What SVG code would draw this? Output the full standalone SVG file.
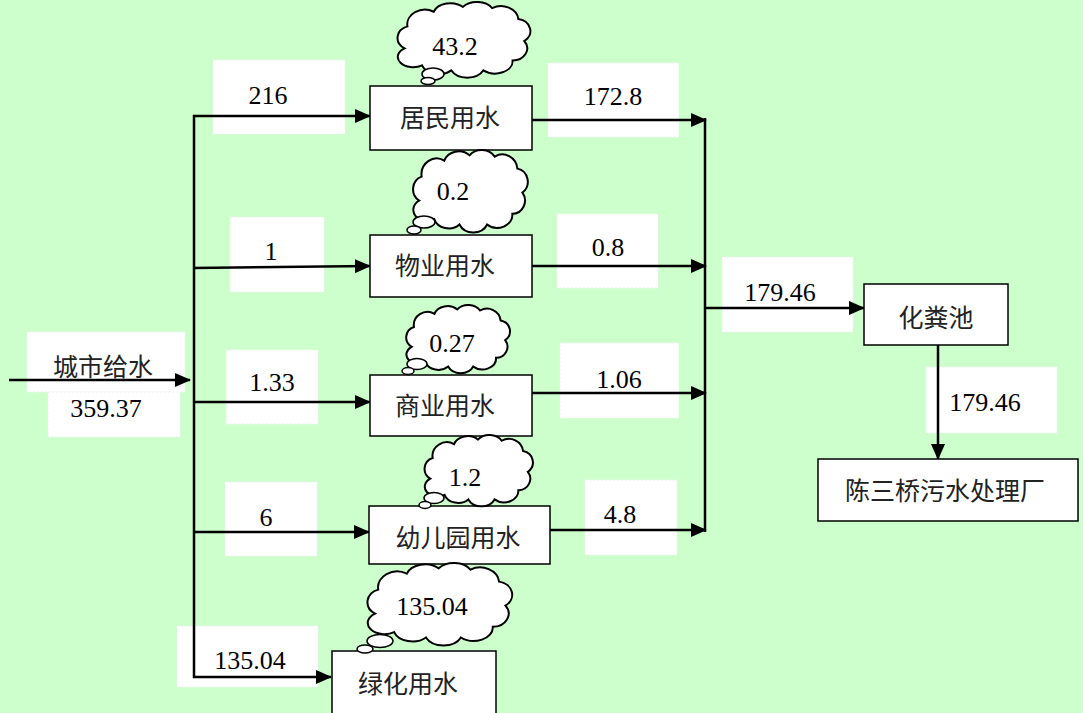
<svg xmlns="http://www.w3.org/2000/svg" width="1083" height="713" viewBox="0 0 1083 713">
<style>
.bg{fill:#CCFFCC}
.lbl{fill:#FFFFFF;stroke:#F0F0F0;stroke-width:1;stroke-dasharray:2 2}
.box{fill:#FFFFFF;stroke:#000;stroke-width:1.5}
.ln{fill:none;stroke:#000;stroke-width:2.5}
.ar{fill:none;stroke:#000;stroke-width:2.5;marker-end:url(#ah)}
.num{font-size:26px;fill:#000;text-anchor:middle}
.zh{font-size:25px;fill:#222;text-anchor:middle}
.cloud{fill:#FFFFFF;stroke:#000;stroke-width:2}
.bub{fill:#FFFFFF;stroke:#000;stroke-width:1.5}
</style>
<defs>
<marker id="ah" markerUnits="userSpaceOnUse" markerWidth="16" markerHeight="14" refX="15" refY="7" orient="auto">
<path d="M0,0 L16,7 L0,14 Z" fill="#000"/>
</marker>
<path id="cl" vector-effect="non-scaling-stroke" d="M12,38 A10,10 0 0 1 14,20 A12,12 0 0 1 32,8 A12,10 0 0 1 52,4 A12,10 0 0 1 72,5 A12,12 0 0 1 90,14 A10,10 0 0 1 94,32 A10,10 0 0 1 86,48 A12,10 0 0 1 66,56 A12,10 0 0 1 44,56 A12,10 0 0 1 24,52 A10,8 0 0 1 12,38 Z"/>
</defs>
<rect class="bg" x="0" y="0" width="1083" height="713"/>

<g id="labels">
<rect class="lbl" x="213" y="60" width="132" height="74"/>
<rect class="lbl" x="548" y="63" width="131" height="74"/>
<rect class="lbl" x="230" y="217" width="94" height="75"/>
<rect class="lbl" x="557" y="214" width="101" height="74"/>
<rect class="lbl" x="226" y="350" width="92" height="74"/>
<rect class="lbl" x="560" y="343" width="119" height="75"/>
<rect class="lbl" x="225" y="482" width="92" height="74"/>
<rect class="lbl" x="585" y="480" width="92" height="75"/>
<rect class="lbl" x="177" y="626" width="141" height="61"/>
<rect class="lbl" x="27" y="332" width="158" height="60"/>
<rect class="lbl" x="48" y="392" width="132" height="45"/>
<rect class="lbl" x="722" y="257" width="131" height="75"/>
<rect class="lbl" x="926" y="367" width="131" height="66"/>
</g>

<g id="connectors">
<line class="ar" x1="9" y1="380" x2="190" y2="380"/>
<line class="ln" x1="194" y1="115" x2="194" y2="678"/>
<line class="ar" x1="193" y1="116" x2="370" y2="116"/>
<line class="ar" x1="193" y1="268" x2="370" y2="266"/>
<line class="ar" x1="193" y1="402" x2="370" y2="402"/>
<line class="ar" x1="193" y1="532" x2="369" y2="532"/>
<line class="ar" x1="193" y1="677" x2="331" y2="677"/>
<line class="ar" x1="532" y1="120" x2="706" y2="120"/>
<line class="ar" x1="532" y1="266" x2="706" y2="266"/>
<line class="ar" x1="532" y1="393" x2="706" y2="393"/>
<line class="ar" x1="550" y1="530" x2="706" y2="530"/>
<line class="ln" x1="705" y1="118" x2="705" y2="532"/>
<line class="ar" x1="705" y1="308" x2="864" y2="308"/>
<line class="ar" x1="938" y1="345" x2="938" y2="459"/>
</g>

<g font-family="Liberation Serif, Times New Roman, Noto Sans CJK SC, serif">
<g id="n-jumin">
<rect class="box" x="370" y="86" width="162" height="64"/>
<text class="zh" x="450" y="127">居民用水</text>
</g>
<g id="c-jumin">
<use href="#cl" class="cloud" transform="translate(387,2) scale(1.46,1.22)"/>
<ellipse class="bub" cx="433" cy="74" rx="11" ry="6"/>
<ellipse class="bub" cx="428" cy="81" rx="7" ry="3.5"/>
<text class="num" x="455" y="55">43.2</text>
</g>

<g id="n-wuye">
<rect class="box" x="370" y="235" width="162" height="62"/>
<text class="zh" x="445" y="275">物业用水</text>
</g>
<g id="c-wuye">
<use href="#cl" class="cloud" transform="translate(404,150) scale(1.26,1.33)"/>
<ellipse class="bub" cx="424" cy="222" rx="11" ry="6"/>
<ellipse class="bub" cx="414" cy="230" rx="7" ry="4"/>
<text class="num" x="453" y="200">0.2</text>
</g>

<g id="n-shangye">
<rect class="box" x="370" y="375" width="162" height="61"/>
<text class="zh" x="445" y="415">商业用水</text>
</g>
<g id="c-shangye">
<use href="#cl" class="cloud" transform="translate(398,305) scale(1.14,1.1)"/>
<ellipse class="bub" cx="417" cy="364" rx="10" ry="5.5"/>
<ellipse class="bub" cx="408" cy="371" rx="6" ry="3.5"/>
<text class="num" x="452" y="352">0.27</text>
</g>

<g id="n-youer">
<rect class="box" x="369" y="506" width="181" height="58"/>
<text class="zh" x="458" y="547">幼儿园用水</text>
</g>
<g id="c-youer">
<use href="#cl" class="cloud" transform="translate(416,435) scale(1.19,1.15)"/>
<ellipse class="bub" cx="434" cy="498" rx="10" ry="5.5"/>
<ellipse class="bub" cx="425" cy="505" rx="6" ry="3.5"/>
<text class="num" x="465" y="486">1.2</text>
</g>

<g id="n-lvhua">
<rect class="box" x="332" y="651" width="164" height="66"/>
<text class="zh" x="408" y="693">绿化用水</text>
</g>
<g id="c-lvhua">
<use href="#cl" class="cloud" transform="translate(356,563) scale(1.59,1.33)"/>
<ellipse class="bub" cx="380" cy="641" rx="13" ry="6.5"/>
<ellipse class="bub" cx="365" cy="649" rx="8" ry="4"/>
<text class="num" x="432" y="615">135.04</text>
</g>

<g id="n-supply">
<text class="zh" x="103" y="376">城市给水</text>
<text class="num" x="106" y="417">359.37</text>
</g>

<g id="n-huafenchi">
<rect class="box" x="864" y="284" width="144" height="61"/>
<text class="zh" x="936" y="327">化粪池</text>
</g>

<g id="n-plant">
<rect class="box" x="818" y="459" width="260" height="62"/>
<text class="zh" x="945" y="500">陈三桥污水处理厂</text>
</g>

<g id="flow-values">
<text class="num" x="268" y="104">216</text>
<text class="num" x="613" y="105">172.8</text>
<text class="num" x="271" y="260">1</text>
<text class="num" x="608" y="256">0.8</text>
<text class="num" x="272" y="391">1.33</text>
<text class="num" x="619" y="388">1.06</text>
<text class="num" x="266" y="526">6</text>
<text class="num" x="620" y="523">4.8</text>
<text class="num" x="250" y="669">135.04</text>
<text class="num" x="780" y="301">179.46</text>
<text class="num" x="985" y="411">179.46</text>
</g>
</g>
</svg>
